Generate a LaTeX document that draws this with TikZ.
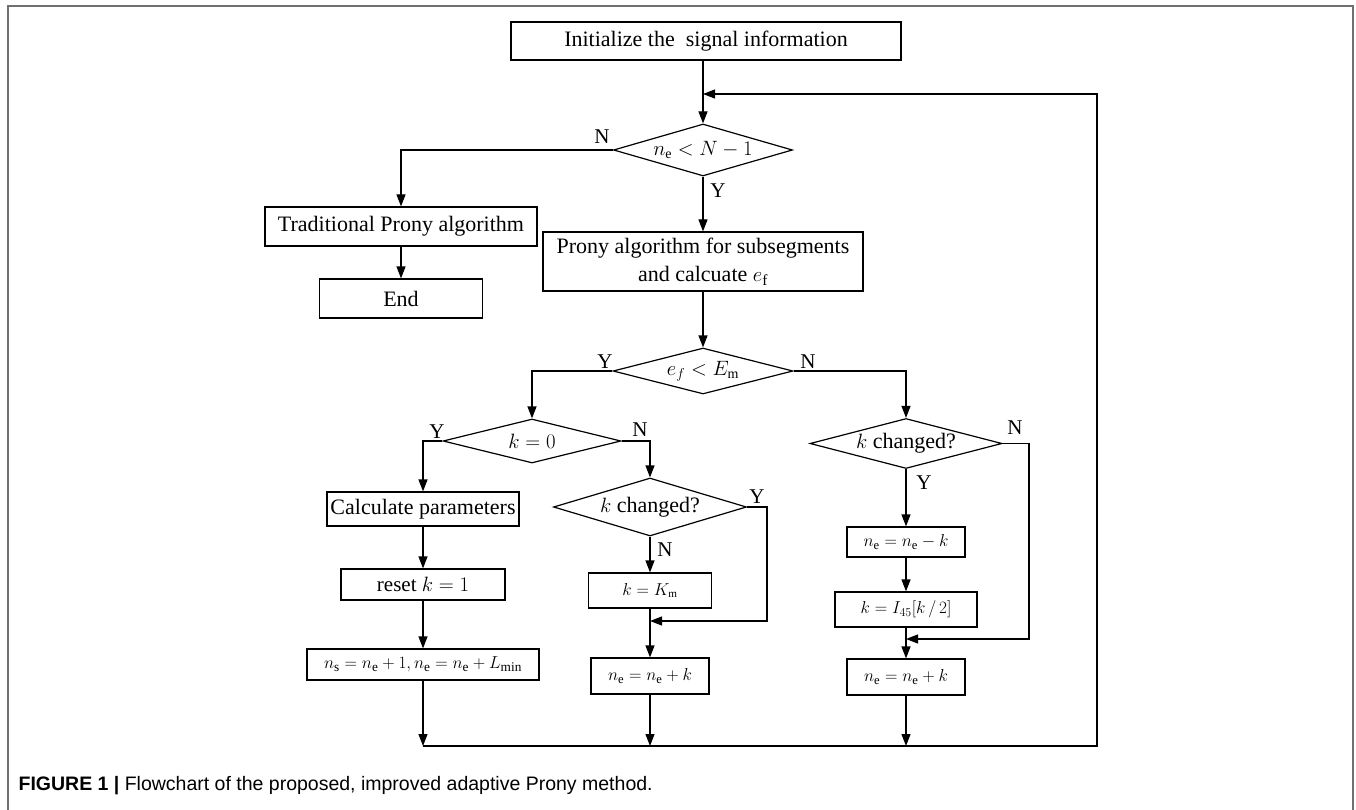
\documentclass[tikz,border=0pt]{standalone}
\usepackage{fontspec}
\setmainfont{Liberation Serif}
\newfontfamily\capfont{Liberation Sans}
\usetikzlibrary{shapes.geometric,arrows.meta}
\definecolor{framegray}{HTML}{707070}

\tikzset{
  flowbox/.style={draw, rectangle, inner sep=0pt, minimum width=#1},
  decide/.style={draw, diamond, inner sep=0pt, aspect=3.4},
  tag/.style={inner sep=0pt, font=\fontsize{21}{21}\selectfont},
  small text/.style={font=\fontsize{#1}{#1}\selectfont}
}

\begin{document}
\begin{tikzpicture}[x=1pt, y=-1pt, line width=1.2pt, >={Triangle[length=12pt,width=9pt]},
    font=\fontsize{22}{28}\selectfont]
  \useasboundingbox (0,0) rectangle (1356,810);
  % frame of the figure
  \draw[framegray, line width=1.5pt] (8,810) -- (8,6) -- (1353,6) -- (1353,810);

  % boxes and decisions
  \node[flowbox=390pt, minimum height=38pt] (init) at (706,41) {Initialize the\ \ signal information};
  \node[decide, minimum width=179pt, minimum height=52pt, small text=20] (d1) at (703,150) {$n_{\mathrm{e}}<N-1$};
  \node[flowbox=272pt, minimum height=39pt] (trad) at (401,226.5) {Traditional Prony algorithm};
  \node[flowbox=163pt, minimum height=39pt] (endb) at (401,298.5) {End};
  \node[flowbox=320pt, minimum height=59pt, align=center] (prony) at (703,261.5)
    {Prony algorithm for subsegments\\and calcuate $e_{\mathrm{f}}$};
  \node[decide, minimum width=180pt, minimum height=46pt, small text=20] (d2) at (703,371) {$e_f<E_{\mathrm{m}}$};
  \node[decide, minimum width=178pt, minimum height=44pt, small text=20] (d3) at (532,441) {$k=0$};
  \node[decide, minimum width=193pt, minimum height=58pt] (d4) at (650,507) {$k$ changed?};
  \node[decide, minimum width=192pt, minimum height=50pt] (d5) at (906,443.5) {$k$ changed?};
  \node[flowbox=192pt, minimum height=34pt] (calc) at (423,509) {Calculate parameters};
  \node[flowbox=164pt, minimum height=31pt, small text=21] (reset) at (423,584.5) {reset $k=1$};
  \node[flowbox=232pt, minimum height=31pt, small text=19] (ns) at (423,664.5)
    {$n_{\mathrm{s}}=n_{\mathrm{e}}+1,n_{\mathrm{e}}=n_{\mathrm{e}}+L_{\min}$};
  \node[flowbox=123pt, minimum height=35pt, small text=16] (km) at (650,590.5) {$k=K_{\mathrm{m}}$};
  \node[flowbox=118pt, minimum height=36pt, small text=18] (ne1) at (650,676) {$n_{\mathrm{e}}=n_{\mathrm{e}}+k$};
  \node[flowbox=118pt, minimum height=30pt, small text=18] (nek) at (906,542) {$n_{\mathrm{e}}=n_{\mathrm{e}}-k$};
  \node[flowbox=142pt, minimum height=35pt, small text=17] (ki) at (906,609.5) {$k=I_{45}\big[k\,/\,2\big]$};
  \node[flowbox=118pt, minimum height=36pt, small text=18] (ne2) at (906,677) {$n_{\mathrm{e}}=n_{\mathrm{e}}+k$};

  % branch labels
  \node[tag] (l1n) at (602,137) {N};
  \node[tag] (l1y) at (718,191) {Y};
  \node[tag] (l2y) at (605,362) {Y};
  \node[tag] (l2n) at (808,362) {N};
  \node[tag] (l3y) at (437,432) {Y};
  \node[tag] (l3n) at (640,430) {N};
  \node[tag] (l4y) at (757,497) {Y};
  \node[tag] (l4n) at (665,550) {N};
  \node[tag] (l5n) at (1015,428) {N};
  \node[tag] (l5y) at (924,483) {Y};

  % joints
  \coordinate (jm) at (767,621);
  \coordinate (jr) at (1029,639);
  \coordinate (bl) at (423,746);
  \coordinate (br) at (1097,746);
  \coordinate (tr) at (1097,94);

  % connectors
  \draw[->] (d1.north |- init.south) -- (d1.north);
  \draw[->] (d1.west) -| (trad.north);
  \draw[->] (d1.south) -- (prony.north);
  \draw[->] (d2.west) -| (d3.north);
  \draw[->] (d2.east) -| (d5.north);
  \draw[->] (d3.west) -| (calc.north);
  \draw[->] (d3.east) -| (d4.north);
  \foreach \a/\b in {trad/endb, prony/d2, calc/reset, reset/ns, d4/km, km/ne1, d5/nek, nek/ki, ki/ne2}
    \draw[->] (\a) -- (\b);
  \draw[->] (d4.east) -| (jm) -- (km.south |- jm);
  \draw[->] (d5.east) -| (jr) -- (ki.south |- jr);
  \foreach \b in {ns, ne1, ne2}
    \draw[->] (\b) -- (\b.south |- bl);
  \draw[->] (bl) -- (br) -- (tr) -- (d1.north |- tr);

  % caption
  \node[anchor=base west, inner sep=0pt, font=\capfont\fontsize{19.5}{22}\selectfont] (cap) at (18,790)
    {\textbf{FIGURE 1 |} Flowchart of the proposed, improved adaptive Prony method.};
\end{tikzpicture}
\end{document}
